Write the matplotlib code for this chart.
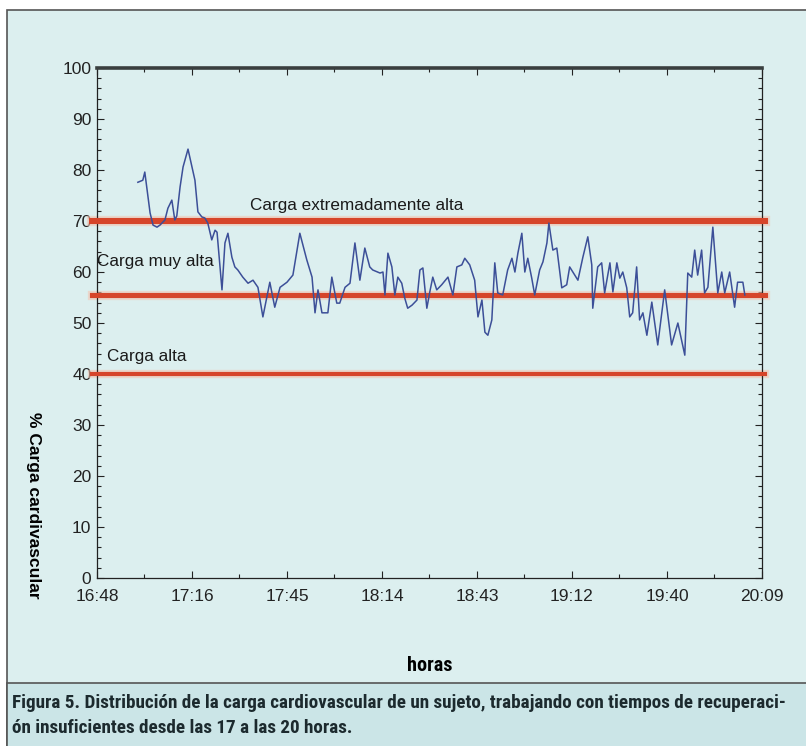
import matplotlib
matplotlib.use("Agg")
import matplotlib.pyplot as plt
from matplotlib.ticker import MultipleLocator, FuncFormatter
from matplotlib.patches import Rectangle
from matplotlib import font_manager

# minutes after 16:48 and % cardiovascular load
minutes = [12.4, 13.9, 14.5, 16.1, 17.0, 18.2, 19.1, 20.6, 21.5, 22.7, 23.6, 24.2,
           25.2, 26.1, 27.6, 28.8, 29.7, 30.6, 31.8, 32.7, 33.6, 34.8, 35.8, 36.4,
           37.9, 38.8, 39.7, 40.9, 41.8, 42.7, 44.2, 45.8, 47.3, 48.8, 50.3, 52.4,
           53.9, 55.5, 57.6, 59.4, 61.5, 63.6, 65.2, 66.1, 67.0, 68.2, 70.0, 71.2,
           72.7, 73.6, 75.2, 76.7, 78.2, 79.7, 81.2, 82.7, 83.6, 85.8, 86.7, 87.3,
           88.2, 89.4, 90.3, 91.2, 92.4, 93.3, 94.2, 95.5, 97.0, 97.9, 98.8, 100.0,
           100.9, 101.8, 103.0, 104.5, 106.4, 107.9, 109.1, 110.6, 111.5, 113.0,
           114.5, 115.5, 116.7, 117.6, 118.5, 119.7, 120.6, 121.5, 123.0, 124.5,
           125.8, 126.7, 127.6, 128.8, 129.7, 130.6, 131.8, 132.7, 134.2, 135.2,
           136.4, 137.0, 138.2, 139.4, 140.9, 142.4, 143.3, 145.8, 147.3, 148.8,
           150.0, 150.3, 151.8, 153.0, 153.9, 155.5, 156.4, 157.6, 158.5, 159.4,
           160.6, 161.5, 162.4, 163.6, 164.5, 165.5, 166.7, 168.2, 170.0, 172.1,
           174.2, 176.1, 178.2, 179.1, 180.3, 181.2, 182.1, 183.3, 184.2, 185.2,
           186.7, 188.2, 189.4, 190.3, 191.8, 193.3, 194.2, 195.8, 196.4]
carga = [77.6, 78.0, 79.6, 71.6, 69.2, 68.8, 69.2, 70.2, 72.5, 74.1, 70.2, 71.0,
         76.7, 80.6, 84.1, 80.6, 78.0, 71.8, 70.8, 70.6, 69.6, 66.3, 68.2, 67.8,
         56.5, 65.7, 67.6, 62.9, 61.0, 60.4, 59.0, 57.8, 58.4, 57.0, 51.2, 58.0,
         53.1, 57.0, 58.0, 59.4, 67.6, 62.4, 59.0, 52.0, 56.5, 52.0, 52.0, 59.0,
         53.9, 53.9, 57.0, 57.8, 65.7, 58.4, 64.7, 61.0, 60.4, 59.8, 60.0, 55.5,
         63.7, 61.0, 55.5, 59.0, 57.8, 54.9, 52.9, 53.5, 54.5, 60.4, 60.8, 52.9,
         56.1, 59.0, 56.5, 57.5, 59.0, 55.5, 61.0, 61.4, 62.7, 61.4, 58.4, 51.2,
         54.5, 48.2, 47.6, 50.6, 61.8, 55.9, 55.5, 60.4, 62.7, 60.0, 63.7, 67.6,
         60.0, 62.7, 58.8, 55.5, 60.4, 62.0, 65.7, 69.6, 64.3, 64.7, 56.9, 57.5,
         61.0, 58.4, 62.9, 66.9, 61.4, 52.9, 61.0, 61.8, 55.9, 61.8, 56.1, 61.8,
         58.8, 60.0, 56.9, 51.2, 52.0, 61.0, 50.6, 52.0, 47.6, 54.1, 45.7, 56.5,
         45.7, 50.0, 43.7, 59.8, 59.0, 64.3, 59.4, 64.3, 55.9, 57.0, 68.8, 55.9,
         60.0, 55.9, 60.0, 53.1, 58.0, 58.0, 55.5]

niveles = [70, 55.5, 40]
grosor = [4.4, 3.7, 3.0]
etiquetas = ["Carga extremadamente alta", "Carga muy alta", "Carga alta"]
etiqueta_x = [0.7322, 0.7000, 0.7021]
etiqueta_y = [73.1, 62.0, 43.5]

bg = "#dcefef"
rojo = "#d6452a"

# narrow font for the caption if there is one
nombres = {f.name for f in font_manager.fontManager.ttflist}
estrecha = "Liberation Sans"
for cand in ["Liberation Sans Narrow", "DejaVu Sans Condensed", "Roboto Condensed",
             "Open Sans Condensed"]:
    if cand in nombres:
        estrecha = cand
        break
tam_pie = 13.8 if estrecha != "Liberation Sans" else 10.2

# x in fraction of a day (16:48 = 0.70)
x = [(1008 + m) / 1440 for m in minutes]

fig = plt.figure(figsize=(8.06, 7.46), dpi=100, facecolor="white")
fig.patches.append(Rectangle((0.009, -0.01), 1.0, 0.997, transform=fig.transFigure,
                             facecolor=bg, edgecolor="#555555", lw=1.2, zorder=-2))
fig.patches.append(Rectangle((0.009, -0.01), 1.0, 0.094, transform=fig.transFigure,
                             facecolor="#cbe5e7", edgecolor="#555555", lw=1.2, zorder=-1))

ax = fig.add_axes([0.1203, 0.2252, 0.8251, 0.6836])
ax.set_facecolor(bg)

for y, w in zip(niveles, grosor):
    ax.axhline(y, xmin=-0.008, xmax=1.005, color="#f2c6b4", lw=w + 3, alpha=0.6,
               clip_on=False, zorder=2)
    ax.axhline(y, xmin=-0.008, xmax=1.005, color=rojo, lw=w, clip_on=False, zorder=3)

ax.plot(x, carga, color="#3c4f98", lw=1.1, zorder=4)

for t, tx, ty in zip(etiquetas, etiqueta_x, etiqueta_y):
    ax.text(tx, ty, t, fontsize=12.3, color="#1a1a1a", va="center", ha="left",
            family="Liberation Sans", zorder=5)

ax.set_xlim(0.70, 0.84)
ax.set_ylim(0, 100)
ax.xaxis.set_major_locator(MultipleLocator(0.02))
ax.xaxis.set_minor_locator(MultipleLocator(0.01))
ax.yaxis.set_major_locator(MultipleLocator(10))
ax.yaxis.set_minor_locator(MultipleLocator(2))


def hora(v, pos):
    total = int(round(v * 1440, 3))
    return f"{total // 60}:{total % 60:02d}"


ax.xaxis.set_major_formatter(FuncFormatter(hora))
ax.tick_params(which="both", direction="in", top=True, right=True, colors="#222222",
               labelsize=12.5, width=0.8)
ax.tick_params(which="major", length=5)
ax.tick_params(which="minor", length=3)
for lab in ax.get_xticklabels() + ax.get_yticklabels():
    lab.set_family("Liberation Sans")
ax.tick_params(axis="x", pad=8)
ax.tick_params(axis="y", pad=4)

for s in ["left", "bottom", "right"]:
    ax.spines[s].set_linewidth(0.9)
    ax.spines[s].set_color("#222222")
ax.spines["top"].set_linewidth(2.6)
ax.spines["top"].set_color("#3a3f3f")

fig.text(0.5335, 0.108, "horas", fontsize=14.5, fontweight="bold", ha="center",
         va="center", family=estrecha)
fig.text(0.041, 0.323, "% Carga cardivascular", fontsize=12.5, fontweight="bold",
         rotation=-90, ha="center", va="center", family="Liberation Sans")

fig.text(0.015, 0.057, "Figura 5. Distribución de la carga cardiovascular de un sujeto, "
         "trabajando con tiempos de recuperaci-", fontsize=tam_pie, fontweight="bold",
         color="#1c2a2e", ha="left", va="center", family=estrecha)
fig.text(0.015, 0.024, "ón insuficientes desde las 17 a las 20 horas.", fontsize=tam_pie,
         fontweight="bold", color="#1c2a2e", ha="left", va="center", family=estrecha)

fig.savefig("out.png", dpi=100, facecolor="white")
